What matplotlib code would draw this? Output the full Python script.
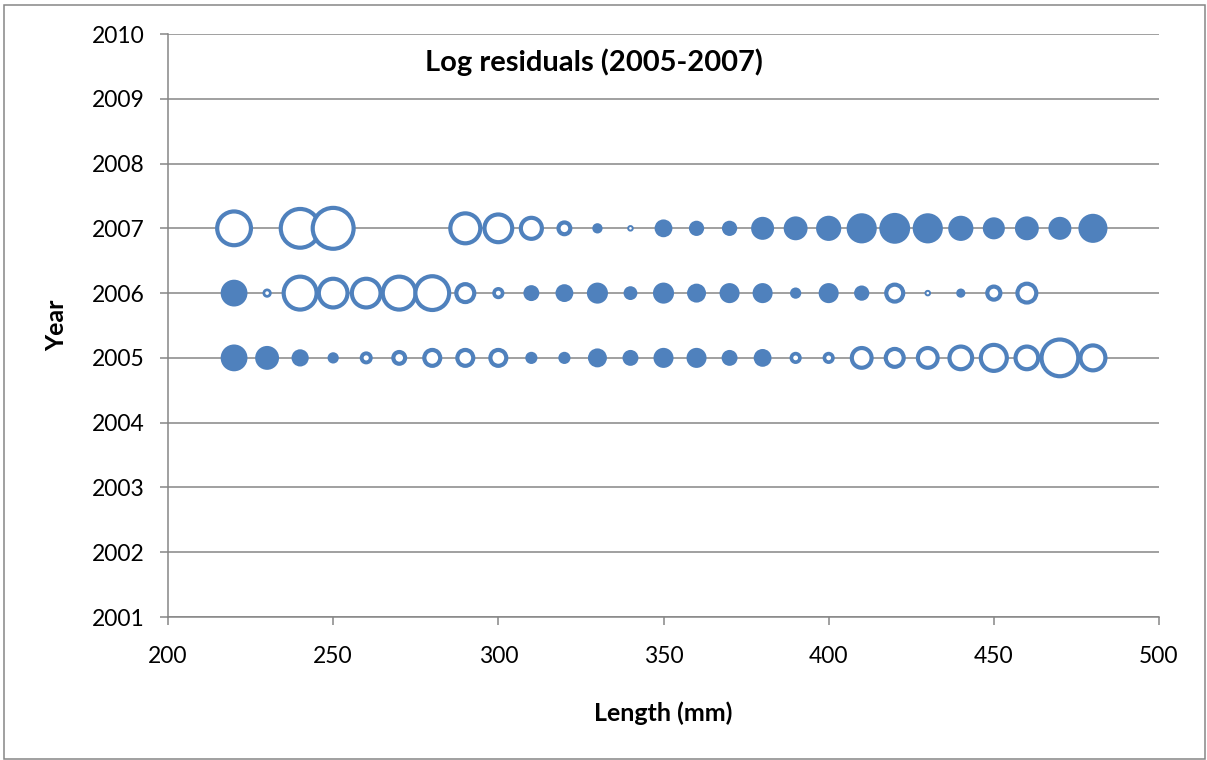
import numpy as np
import matplotlib
matplotlib.use('Agg')
from matplotlib import pyplot as plt
from matplotlib.patches import Rectangle

plt.rcParams['font.family'] = ['Lato', 'DejaVu Sans']

# 残差数据 (负值 = 空心气泡)
len_2005 = [220, 230, 240, 250, 260, 270, 280, 290, 300, 310, 320, 330, 340, 350,
            360, 370, 380, 390, 400, 410, 420, 430, 440, 450, 460, 470, 480]
res_2005 = [0.34, 0.27, 0.14, 0.06, -0.08, -0.12, -0.19, -0.19, -0.19, 0.07, 0.07, 0.17, 0.12, 0.19,
            0.19, 0.12, 0.15, -0.07, -0.07, -0.27, -0.23, -0.27, -0.34, -0.43, -0.34, -0.79, -0.40]

len_2006 = [220, 230, 240, 250, 260, 270, 280, 290, 300, 310, 320, 330, 340, 350,
            360, 370, 380, 390, 400, 410, 420, 430, 440, 450, 460]
res_2006 = [0.34, -0.04, -0.65, -0.51, -0.51, -0.65, -0.68, -0.23, -0.07, 0.12, 0.15, 0.21, 0.09, 0.21,
            0.17, 0.19, 0.19, 0.06, 0.19, 0.11, -0.21, -0.02, 0.04, -0.14, -0.25]

len_2007 = [220, 240, 250, 290, 300, 310, 320, 330, 340, 350,
            360, 370, 380, 390, 400, 410, 420, 430, 440, 450, 460, 470, 480]
res_2007 = [-0.68, -0.87, -0.96, -0.55, -0.48, -0.30, -0.12, 0.05, -0.02, 0.15,
            0.11, 0.11, 0.25, 0.27, 0.30, 0.43, 0.45, 0.43, 0.30, 0.23, 0.27, 0.25, 0.40]

years = [2005, 2006, 2007]
lengths = [len_2005, len_2006, len_2007]
resids = [res_2005, res_2006, res_2007]

blue = '#4F81BD'
grey = '#868686'
px = 0.72  # 1 像素 = 0.72 磅 (dpi=100)

fig = plt.figure(figsize=(12.07, 7.6), dpi=100)
ax = fig.add_axes([168/1207, 1-617/760, (1159-168)/1207, (617-34)/760])

for yr, xs, rs in zip(years, lengths, resids):
    rs = np.array(rs)
    d = 46 * np.sqrt(np.abs(rs)) * px          # 外径 (磅)
    lw = np.where(rs < 0, np.minimum(3.0, d * 0.3), 0)
    s = (d - lw) ** 2
    fc = [blue if r > 0 else 'white' for r in rs]
    ax.scatter(xs, [yr] * len(xs), s=s, c=fc, edgecolors=blue, linewidths=lw,
               zorder=3, clip_on=False)

ax.set_xlim(200, 500)
ax.set_ylim(2001, 2010)
ax.set_xticks(range(200, 501, 50))
ax.set_yticks(range(2001, 2011))
ax.yaxis.grid(True, color=grey, linewidth=1.1)
ax.set_axisbelow(True)

for side in ['top', 'right']:
    ax.spines[side].set_visible(False)
for side in ['left', 'bottom']:
    ax.spines[side].set_color(grey)
    ax.spines[side].set_linewidth(1.1)
ax.tick_params(axis='both', colors=grey, labelcolor='black', labelsize=16.5,
               length=5.8, width=1.1, direction='out')
ax.tick_params(axis='x', pad=15)
ax.tick_params(axis='y', pad=11)

ax.set_xlabel('Length (mm)', fontsize=18, fontweight='bold', labelpad=25)
ax.set_ylabel('Year', fontsize=18, fontweight='bold', labelpad=17)
ax.text(0.43, 0.952, 'Log residuals (2005-2007)', transform=ax.transAxes,
        ha='center', va='center', fontsize=21, fontweight='bold')

# 外框
fig.patches.append(Rectangle((4/1207, 1/760), 1201/1207, 754/760, transform=fig.transFigure,
                             fill=False, edgecolor=grey, linewidth=1.1))

plt.savefig('out.png', dpi=100)
